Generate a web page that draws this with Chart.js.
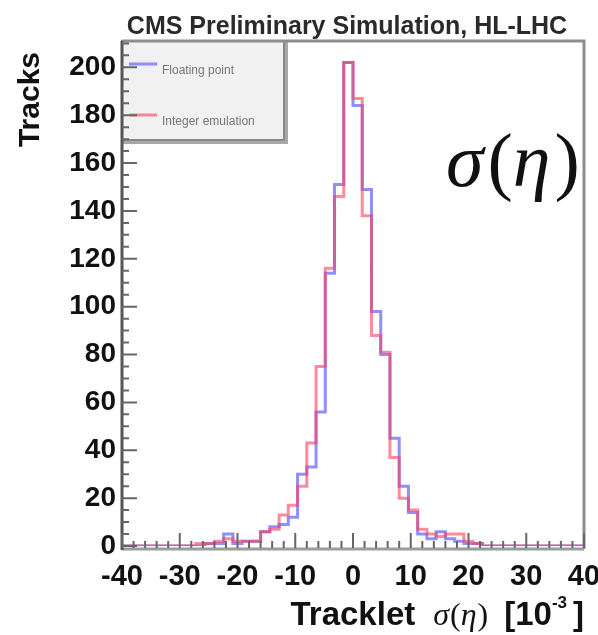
<!DOCTYPE html>
<html>
<head>
<meta charset="utf-8">
<script src="https://cdn.jsdelivr.net/npm/chart.js@4.4.0/dist/chart.umd.min.js"></script>
<style>
  html, body { margin: 0; padding: 0; background: #fff; }
</style>
</head>
<body>
<canvas id="trackletChart" width="598" height="635"></canvas>
<script>
// 50 bins of 1.6 from -40 to 40 (sigma(eta) in 1e-3)
const binLow = -40;
const binWidth = 1.6;

// tracks per bin
const floatingPoint = [
  0, 0, 0, 0, 0, 0, 0, 0, 0, 1,
  1, 5, 1, 2, 2, 6, 8, 9, 12, 30,
  33, 56, 114, 151, 202, 184, 149, 98, 80, 45,
  25, 14, 5, 3, 6, 3, 2, 1, 1, 0,
  0, 0, 0, 0, 0, 0, 0, 0, 0, 0
];
const integerEmulation = [
  0, 0, 0, 0, 0, 0, 0, 0, 1, 1,
  2, 3, 2, 2, 2, 6, 7, 13, 17, 25,
  43, 75, 116, 146, 202, 187, 138, 88, 81, 37,
  20, 15, 7, 5, 4, 5, 5, 2, 1, 0,
  0, 0, 0, 0, 0, 0, 0, 0, 0, 0
];

const xTickValues = [-40, -30, -20, -10, 0, 10, 20, 30, 40];
const yTickValues = [0, 20, 40, 60, 80, 100, 120, 140, 160, 180, 200];
const xMinorStep = 2;
const yMinorStep = 5;

const seriesLabels = ['Floating point', 'Integer emulation'];
const blueLine = 'rgba(105,105,255,0.75)';
const redLine = 'rgba(255,60,90,0.6)';

// histogram as step line: one point per lower bin edge plus the last edge
function toSteps(counts) {
  const pts = counts.map((c, i) => ({ x: binLow + i * binWidth, y: c }));
  pts.push({ x: binLow + counts.length * binWidth, y: counts[counts.length - 1] });
  return pts;
}

function drawParts(ctx, parts, x, base) {
  parts.forEach(p => {
    ctx.font = p[1];
    x += p[3] || 0;
    ctx.fillText(p[0], x, base + p[2]);
    x += ctx.measureText(p[0]).width;
  });
}

function partsWidth(ctx, parts) {
  let w = 0;
  parts.forEach(p => { ctx.font = p[1]; w += ctx.measureText(p[0]).width + (p[3] || 0); });
  return w;
}

const cmsDecor = {
  id: 'cmsDecor',
  beforeDatasetsDraw(chart) {
    const ctx = chart.ctx, ca = chart.chartArea;
    // legend box (ROOT style, top-left of the frame)
    const bx = ca.left, by = ca.top, bw = 164, bh = 101;
    ctx.save();
    ctx.fillStyle = '#f1f1f1';
    ctx.fillRect(bx, by, bw, bh);
    ctx.strokeStyle = '#a8a8a8';
    ctx.lineWidth = 4;
    ctx.beginPath();
    ctx.moveTo(bx + bw, by);
    ctx.lineTo(bx + bw, by + bh);
    ctx.lineTo(bx, by + bh);
    ctx.stroke();
    ctx.strokeStyle = '#888';
    ctx.lineWidth = 2;
    ctx.strokeRect(bx, by, bw - 2, bh - 2);

    const entries = [[blueLine, seriesLabels[0], 23], [redLine, seriesLabels[1], 74]];
    ctx.font = '12px "Liberation Sans", Arial, sans-serif';
    ctx.textBaseline = 'middle';
    ctx.textAlign = 'left';
    entries.forEach(([col, txt, dy]) => {
      ctx.strokeStyle = col;
      ctx.lineWidth = 3;
      ctx.beginPath();
      ctx.moveTo(bx + 7, by + dy);
      ctx.lineTo(bx + 35, by + dy);
      ctx.stroke();
      ctx.fillStyle = '#777';
      ctx.fillText(txt, bx + 40, by + dy + 7);
    });
    ctx.restore();
  },
  afterDatasetsDraw(chart) {
    const ctx = chart.ctx, ca = chart.chartArea;
    const xs = chart.scales.x, ys = chart.scales.y;
    ctx.save();
    // frame
    ctx.strokeStyle = '#8e8e8e';
    ctx.lineWidth = 3;
    ctx.beginPath();
    ctx.moveTo(ca.left, ca.top);
    ctx.lineTo(ca.right, ca.top);
    ctx.lineTo(ca.right, ca.bottom + 3);
    ctx.stroke();
    ctx.strokeStyle = '#9c9c9c';
    ctx.beginPath();
    ctx.moveTo(ca.left, ca.bottom + 3);
    ctx.lineTo(ca.right, ca.bottom + 3);
    ctx.stroke();
    ctx.strokeStyle = '#555';
    ctx.beginPath();
    ctx.moveTo(ca.left, ca.top);
    ctx.lineTo(ca.left, ca.bottom + 4);
    ctx.stroke();

    // inward ticks
    ctx.strokeStyle = '#666';
    ctx.lineWidth = 2;
    ctx.beginPath();
    for (let v = xs.min; v <= xs.max + 1e-9; v += xMinorStep) {
      const px = xs.getPixelForValue(v);
      const len = xTickValues.includes(v) ? 15 : 7;
      ctx.moveTo(px, ca.bottom + 2);
      ctx.lineTo(px, ca.bottom + 2 - len);
    }
    for (let v = ys.min; v <= ys.max; v += yMinorStep) {
      const py = ys.getPixelForValue(v);
      const len = yTickValues.includes(v) ? 15 : 7;
      ctx.moveTo(ca.left, py);
      ctx.lineTo(ca.left + len, py);
    }
    ctx.stroke();
    ctx.restore();
  },
  afterDraw(chart) {
    const ctx = chart.ctx, ca = chart.chartArea;
    ctx.save();
    ctx.fillStyle = '#2a2a2a';
    // header
    ctx.font = 'bold 25px "Liberation Sans", Arial, sans-serif';
    ctx.textAlign = 'center';
    ctx.textBaseline = 'alphabetic';
    ctx.fillText('CMS Preliminary Simulation, HL-LHC', (ca.left + ca.right) / 2 - 6, 34);

    // y title
    ctx.save();
    ctx.translate(31, 52);
    ctx.rotate(-Math.PI / 2);
    ctx.textAlign = 'right';
    ctx.textBaseline = 'middle';
    ctx.font = 'bold 30px "Liberation Sans", Arial, sans-serif';
    ctx.fillStyle = '#111';
    ctx.fillText('Tracks', 0, 0);
    ctx.restore();

    // x title, right aligned at the frame edge
    ctx.textAlign = 'left';
    ctx.fillStyle = '#111';
    const bold = 'bold 33px "Liberation Sans", Arial, sans-serif';
    const xParts = [
      ['Tracklet', bold, 0, 0],
      ['σ', 'italic 32px "Liberation Serif", serif', 0, 18],
      ['(', '32px "Liberation Serif", serif', 0, 1],
      ['η', 'italic 32px "Liberation Serif", serif', 0, 0],
      [')', '32px "Liberation Serif", serif', 0, 1],
      ['[10', bold, 0, 16],
      ['-3', 'bold 17px "Liberation Sans", Arial, sans-serif', -17, 0],
      [']', bold, 0, 6]
    ];
    drawParts(ctx, xParts, ca.right - partsWidth(ctx, xParts), 625);

    // big sigma(eta) label
    const bigParts = [
      ['σ', 'italic 76px "Liberation Serif", serif', 0, 0],
      ['(', '76px "Liberation Serif", serif', 0, 4],
      ['η', 'italic 76px "Liberation Serif", serif', 0, 0],
      [')', '76px "Liberation Serif", serif', 0, 4]
    ];
    drawParts(ctx, bigParts, 446, 186);
    ctx.restore();
  }
};

const ctx = document.getElementById('trackletChart').getContext('2d');

const trackletChart = new Chart(ctx, {
  type: 'line',
  data: {
    datasets: [
      {
        label: seriesLabels[1],
        data: toSteps(integerEmulation),
        borderColor: redLine,
        borderWidth: 3,
        stepped: true,
        pointRadius: 0,
        fill: false
      },
      {
        label: seriesLabels[0],
        data: toSteps(floatingPoint),
        borderColor: blueLine,
        borderWidth: 3,
        stepped: true,
        pointRadius: 0,
        fill: false
      }
    ]
  },
  options: {
    responsive: false,
    animation: false,
    layout: { padding: { top: 41, right: 14, left: 0, bottom: 0 } },
    plugins: {
      legend: { display: false },
      title: { display: false },
      tooltip: { enabled: false }
    },
    scales: {
      x: {
        type: 'linear',
        min: -40,
        max: 40,
        grid: { display: false, drawTicks: false },
        border: { display: false },
        afterBuildTicks: s => { s.ticks = xTickValues.map(v => ({ value: v })); },
        afterFit: s => { s.height = 89; s.paddingLeft = 0; s.paddingRight = 0; },
        ticks: {
          autoSkip: false,
          maxRotation: 0,
          padding: 14,
          color: '#111',
          font: { family: '"Liberation Sans", Arial, sans-serif', size: 29, weight: 'bold' }
        }
      },
      y: {
        min: 0,
        max: 211,
        grid: { display: false, drawTicks: false },
        border: { display: false },
        afterBuildTicks: s => { s.ticks = yTickValues.map(v => ({ value: v })); },
        afterFit: s => { s.width = 122; s.paddingTop = 0; s.paddingBottom = 0; },
        ticks: {
          autoSkip: false,
          padding: 6,
          color: '#111',
          font: { family: '"Liberation Sans", Arial, sans-serif', size: 28, weight: 'bold' }
        }
      }
    }
  },
  plugins: [cmsDecor]
});
</script>
</body>
</html>
